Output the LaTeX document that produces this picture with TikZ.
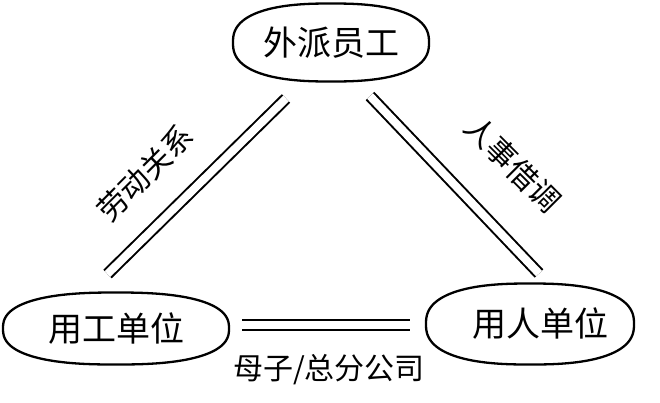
\documentclass[tikz,border=0pt]{standalone}
\usepackage{fontspec}
\newfontfamily\cjk{Noto Sans CJK SC}
\usetikzlibrary{shapes.geometric,calc}
\tikzset{
  party/.style={ellipse, inner sep=0pt, font=\cjk\fontsize{34pt}{40pt}\selectfont},
  outline/.style={draw=black, line width=2.3pt},
  bond/.style={draw=black, double=white, double distance=8pt, line width=2pt},
  rel/.style={font=\cjk\fontsize{30pt}{36pt}\selectfont, inner sep=0pt}
}
\newcommand{\superoval}[3]{%
  \draw[outline, shift={(#1.center)}] plot[domain=0:360, samples=160]
    ({#2*sign(cos(\x))*pow(abs(cos(\x)),0.8)}, {#3*sign(sin(\x))*pow(abs(sin(\x)),0.8)}) -- cycle;}
\begin{document}
\begin{tikzpicture}[x=1pt,y=1pt]
\useasboundingbox[fill=white] (0,0) rectangle (660,-402);
\node[party, minimum width=198pt, minimum height=79pt] (top) at (331,-42.5) {外派员工};
\node[party, minimum width=228pt, minimum height=73pt] (left) at (116,-328.5) {用工单位};
\node[party, minimum width=210pt, minimum height=82pt] (right) at (530,-324) {\hspace*{20pt}用人单位};
\superoval{top}{98}{39}
\superoval{left}{113}{36}
\superoval{right}{104}{40.5}
\coordinate (tl) at ($(top.center)+(-45,-56)$);
\coordinate (tr) at ($(top.center)+(39,-53.5)$);
\coordinate (lt) at ($(left.center)+(-8.5,54.5)$);
\coordinate (lr) at ($(left.center)+(126,3.5)$);
\coordinate (rt) at ($(right.center)+(9,50.5)$);
\coordinate (rl) at ($(right.center)+(-120,-1)$);
\draw[bond] (tl) -- (lt);
\draw[bond] (tr) -- (rt);
\draw[bond] (lr) -- (rl);
\node[rel, rotate=45] (labor) at (145,-173) {劳动关系};
\node[rel, rotate=-45] (second) at (513,-164) {人事借调};
\node[rel] (corp) at (329,-370) {母子/总分公司};
\end{tikzpicture}
\end{document}
